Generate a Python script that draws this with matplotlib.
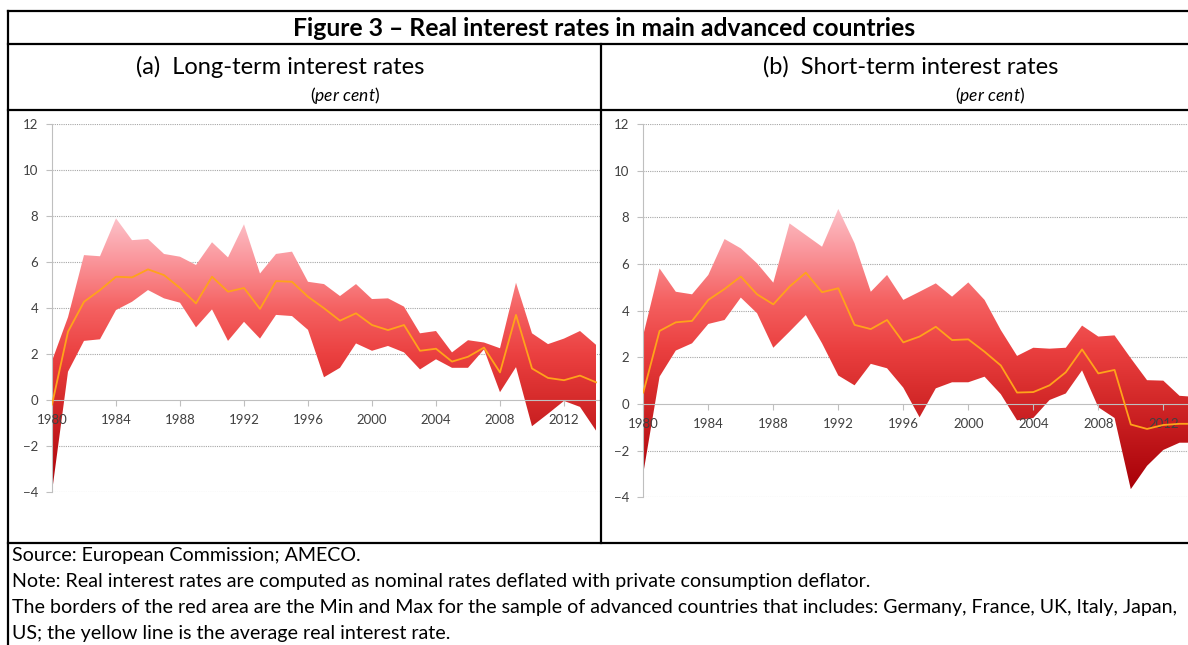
import numpy as np
import matplotlib
matplotlib.use('Agg')
from matplotlib import pyplot as plt
from matplotlib.colors import LinearSegmentedColormap
from matplotlib.lines import Line2D

plt.rcParams['font.family'] = ['Lato', 'DejaVu Sans']
plt.rcParams['mathtext.fontset'] = 'custom'
plt.rcParams['mathtext.rm'] = 'Lato'
plt.rcParams['mathtext.it'] = 'Lato:italic'

W, H = 1188, 645

years = np.arange(1980, 2015)
year_ticks = list(range(1980, 2013, 4))
y_ticks = list(range(-4, 13, 2))

# (a) long-term real rates: max, average, min
lt_max = [1.7, 3.6, 6.3, 6.25, 7.9, 6.95, 7.0, 6.35, 6.23, 5.87,
          6.86, 6.2, 7.64, 5.5, 6.35, 6.45, 5.14, 5.04, 4.52, 5.04,
          4.39, 4.42, 4.06, 2.9, 3.0, 2.07, 2.6, 2.5, 2.25, 5.1,
          2.9, 2.43, 2.67, 3.0, 2.4]
lt_avg = [-0.2, 2.97, 4.27, 4.78, 5.36, 5.33, 5.68, 5.43, 4.87, 4.2,
          5.36, 4.71, 4.87, 3.96, 5.17, 5.14, 4.49, 3.99, 3.45, 3.77,
          3.26, 3.04, 3.26, 2.14, 2.23, 1.67, 1.88, 2.28, 1.2, 3.7,
          1.37, 0.96, 0.86, 1.06, 0.77]
lt_min = [-4.0, 1.23, 2.57, 2.64, 3.91, 4.27, 4.78, 4.42, 4.23, 3.16,
          3.94, 2.57, 3.4, 2.67, 3.7, 3.65, 3.05, 0.99, 1.4, 2.46,
          2.14, 2.35, 2.07, 1.33, 1.77, 1.4, 1.4, 2.2, 0.34, 1.43,
          -1.14, -0.6, -0.04, -0.3, -1.33]

# (b) short-term real rates: max, average, min
st_max = [2.96, 5.81, 4.81, 4.7, 5.53, 7.07, 6.67, 6.03, 5.2, 7.74,
          7.24, 6.74, 8.36, 6.89, 4.81, 5.53, 4.46, 4.81, 5.17, 4.6,
          5.21, 4.46, 3.17, 2.06, 2.41, 2.37, 2.41, 3.36, 2.89, 2.94,
          1.96, 1.02, 1.0, 0.35, 0.3]
st_avg = [0.49, 3.13, 3.5, 3.56, 4.46, 4.93, 5.46, 4.7, 4.27, 5.03,
          5.63, 4.79, 4.96, 3.39, 3.21, 3.6, 2.64, 2.89, 3.31, 2.74,
          2.77, 2.24, 1.65, 0.49, 0.51, 0.8, 1.36, 2.34, 1.31, 1.46,
          -0.88, -1.07, -0.9, -0.85, -0.85]
st_min = [-2.97, 1.17, 2.29, 2.6, 3.43, 3.6, 4.56, 3.89, 2.41, 3.1,
          3.81, 2.6, 1.22, 0.8, 1.72, 1.53, 0.7, -0.57, 0.67, 0.93,
          0.93, 1.17, 0.42, -0.7, -0.6, 0.17, 0.45, 1.44, -0.14, -0.6,
          -3.65, -2.65, -1.97, -1.66, -1.66]

reds = LinearSegmentedColormap.from_list('reds', [
    (0.0, (0.66, 0.0, 0.03)),
    (0.34, (0.84, 0.17, 0.17)),
    (0.5, (0.92, 0.25, 0.25)),
    (0.67, (0.96, 0.38, 0.38)),
    (0.84, (0.98, 0.58, 0.60)),
    (1.0, (0.99, 0.76, 0.79)),
])

fig = plt.figure(figsize=(W / 100, H / 100), dpi=100)


def px_axes(x0, x1, y_top, y_bot):
    return fig.add_axes([x0 / W, 1 - y_bot / H, (x1 - x0) / W, (y_bot - y_top) / H])


def draw_panel(ax, lo, avg, hi, x_right):
    lo = np.array(lo)
    hi = np.array(hi)
    # dotted gridlines under the red band
    for y in y_ticks:
        if y != 0:
            ax.axhline(y, color='#a6a6a6', lw=0.8, ls=(0, (1, 1)), zorder=1)
    grad = np.linspace(0, 1, 256).reshape(-1, 1)
    im = ax.imshow(grad, cmap=reds, origin='lower', aspect='auto',
                   extent=(years[0], years[-1], lo.min(), hi.max()), zorder=2)
    poly = ax.fill_between(years, lo, hi, facecolor='none', edgecolor='none')
    im.set_clip_path(poly.get_paths()[0], transform=ax.transData)
    ax.plot(years, avg, color='#ffa31a', lw=1.3, zorder=3)

    ax.set_axisbelow(False)
    ax.set_xlim(1980, x_right)
    ax.set_ylim(-4, 12)
    ax.set_xticks(year_ticks)
    ax.set_yticks(y_ticks)
    for s in ['top', 'right']:
        ax.spines[s].set_visible(False)
    ax.spines['bottom'].set_position(('data', 0))
    ax.spines['bottom'].set_color('#bfbfbf')
    ax.spines['left'].set_color('#bfbfbf')
    ax.tick_params(labelsize=9.5, labelcolor='#404040', color='#bfbfbf', length=4)
    ax.tick_params(axis='y', pad=6)
    ax.tick_params(axis='x', pad=6)
    ax.patch.set_alpha(0)


ax1 = px_axes(52, 601, 124, 492)
draw_panel(ax1, lt_min, lt_avg, lt_max, 1980 + 549 / 16)

ax2 = px_axes(643.3, 1188, 124, 497.3)
draw_panel(ax2, st_min, st_avg, st_max, 1980 + (1188 - 643.3) / 16.25)

# table frame and text in pixel coordinates
ov = fig.add_axes([0, 0, 1, 1], zorder=10)
ov.set_xlim(0, W)
ov.set_ylim(H, 0)
ov.axis('off')

frame = [
    ((8, W), (11, 11)),
    ((8, W), (44, 44)),
    ((8, W), (110, 110)),
    ((8, W), (543, 543)),
    ((601, 601), (44, 543)),
    ((8, 8), (11, H)),
]
for xs, ys in frame:
    ov.add_line(Line2D(xs, ys, color='black', lw=1.6))

ov.text(604, 28, 'Figure 3 \u2013 Real interest rates in main advanced countries',
        ha='center', va='center', fontsize=17.8, fontweight='bold')
ov.text(280, 67, '(a)  Long-term interest rates', ha='center', va='center', fontsize=17)
ov.text(345, 96, r'($\mathit{per\ cent}$)', ha='center', va='center', fontsize=12.5)
ov.text(911, 67, '(b)  Short-term interest rates', ha='center', va='center', fontsize=17)
ov.text(990, 96, r'($\mathit{per\ cent}$)', ha='center', va='center', fontsize=12.5)

notes = [
    'Source: European Commission; AMECO.',
    'Note: Real interest rates are computed as nominal rates deflated with private consumption deflator.',
    'The borders of the red area are the Min and Max for the sample of advanced countries that includes: Germany, France, UK, Italy, Japan,',
    'US; the yellow line is the average real interest rate.',
]
for i, line in enumerate(notes):
    ov.text(12, 556 + i * 26, line, ha='left', va='center', fontsize=14.15)

fig.savefig('out.png', dpi=100)
